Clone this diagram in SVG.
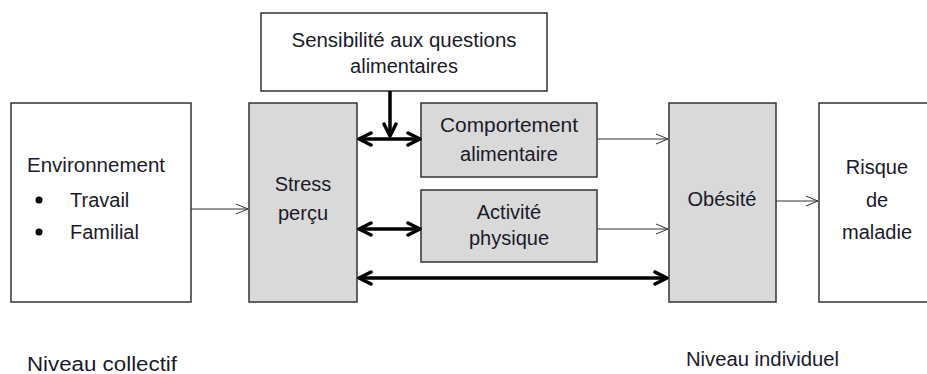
<svg xmlns="http://www.w3.org/2000/svg" width="927" height="374" viewBox="0 0 927 374">
<defs>
<style>
.box{stroke:#333;stroke-width:1.5}
.w{fill:#fff}
.g{fill:#d9d9d9}
text{font-family:"Liberation Sans",Arial,sans-serif;font-size:20px;fill:#1a1a2a}
.c{text-anchor:middle}
.thin{stroke:#333;stroke-width:1;fill:none}
.thick{stroke:#000;stroke-width:3.5;fill:none}
</style>
<marker id="open" markerWidth="14" markerHeight="12" refX="13" refY="6" orient="auto-start-reverse" markerUnits="userSpaceOnUse">
<path d="M1,1 L13,6 L1,11" fill="none" stroke="#333" stroke-width="1"/>
</marker>
<marker id="bold" markerWidth="16" markerHeight="16" refX="14" refY="8" orient="auto-start-reverse" markerUnits="userSpaceOnUse">
<path d="M2,2 L14,8 L2,14" fill="none" stroke="#000" stroke-width="3.5" stroke-linecap="round" stroke-linejoin="round"/>
</marker>
</defs>
<rect width="927" height="374" fill="#fff"/>
<g id="sensibilite">
<rect class="box w" x="261" y="13" width="286" height="78"/>
<text class="c" x="404" y="47" textLength="225" lengthAdjust="spacingAndGlyphs">Sensibilité aux questions</text>
<text class="c" x="404" y="73">alimentaires</text>
</g>
<g id="environnement">
<rect class="box w" x="11" y="103" width="180" height="199"/>
<text x="27" y="172" textLength="138" lengthAdjust="spacingAndGlyphs">Environnement</text>
<circle cx="39" cy="200" r="3.5" fill="#000"/>
<text x="70" y="207">Travail</text>
<circle cx="39" cy="232" r="3.5" fill="#000"/>
<text x="70" y="239">Familial</text>
</g>
<g id="stress">
<rect class="box g" x="249" y="103" width="108" height="199"/>
<text class="c" x="303" y="191">Stress</text>
<text class="c" x="303" y="220">perçu</text>
</g>
<g id="comportement">
<rect class="box g" x="421" y="103" width="176" height="74"/>
<text class="c" x="509" y="132" textLength="138" lengthAdjust="spacingAndGlyphs">Comportement</text>
<text class="c" x="509" y="161">alimentaire</text>
</g>
<g id="activite">
<rect class="box g" x="421" y="190" width="176" height="72"/>
<text class="c" x="509" y="219">Activité</text>
<text class="c" x="509" y="245">physique</text>
</g>
<g id="obesite">
<rect class="box g" x="669" y="103" width="107" height="199"/>
<text class="c" x="722" y="206">Obésité</text>
</g>
<g id="risque">
<rect class="box w" x="819" y="103" width="115" height="199"/>
<text class="c" x="877" y="174">Risque</text>
<text class="c" x="877" y="207">de</text>
<text class="c" x="877" y="239">maladie</text>
</g>
<g id="labels">
<text x="27" y="371" textLength="150" lengthAdjust="spacingAndGlyphs">Niveau collectif</text>
<text x="686" y="366" textLength="153" lengthAdjust="spacingAndGlyphs">Niveau individuel</text>
</g>
<g id="connectors">
<line class="thin" x1="191" y1="209" x2="248" y2="209" marker-end="url(#open)"/>
<line class="thin" x1="597" y1="139" x2="668" y2="139" marker-end="url(#open)"/>
<line class="thin" x1="597" y1="229" x2="668" y2="229" marker-end="url(#open)"/>
<line class="thin" x1="776" y1="201" x2="818" y2="201" marker-end="url(#open)"/>
<line class="thick" x1="390" y1="91" x2="390" y2="136" marker-end="url(#bold)"/>
<line class="thick" x1="359" y1="139" x2="420" y2="139" marker-start="url(#bold)" marker-end="url(#bold)"/>
<line class="thick" x1="359" y1="229" x2="420" y2="229" marker-start="url(#bold)" marker-end="url(#bold)"/>
<line class="thick" x1="359" y1="278" x2="667" y2="278" marker-start="url(#bold)" marker-end="url(#bold)"/>
</g>
</svg>
